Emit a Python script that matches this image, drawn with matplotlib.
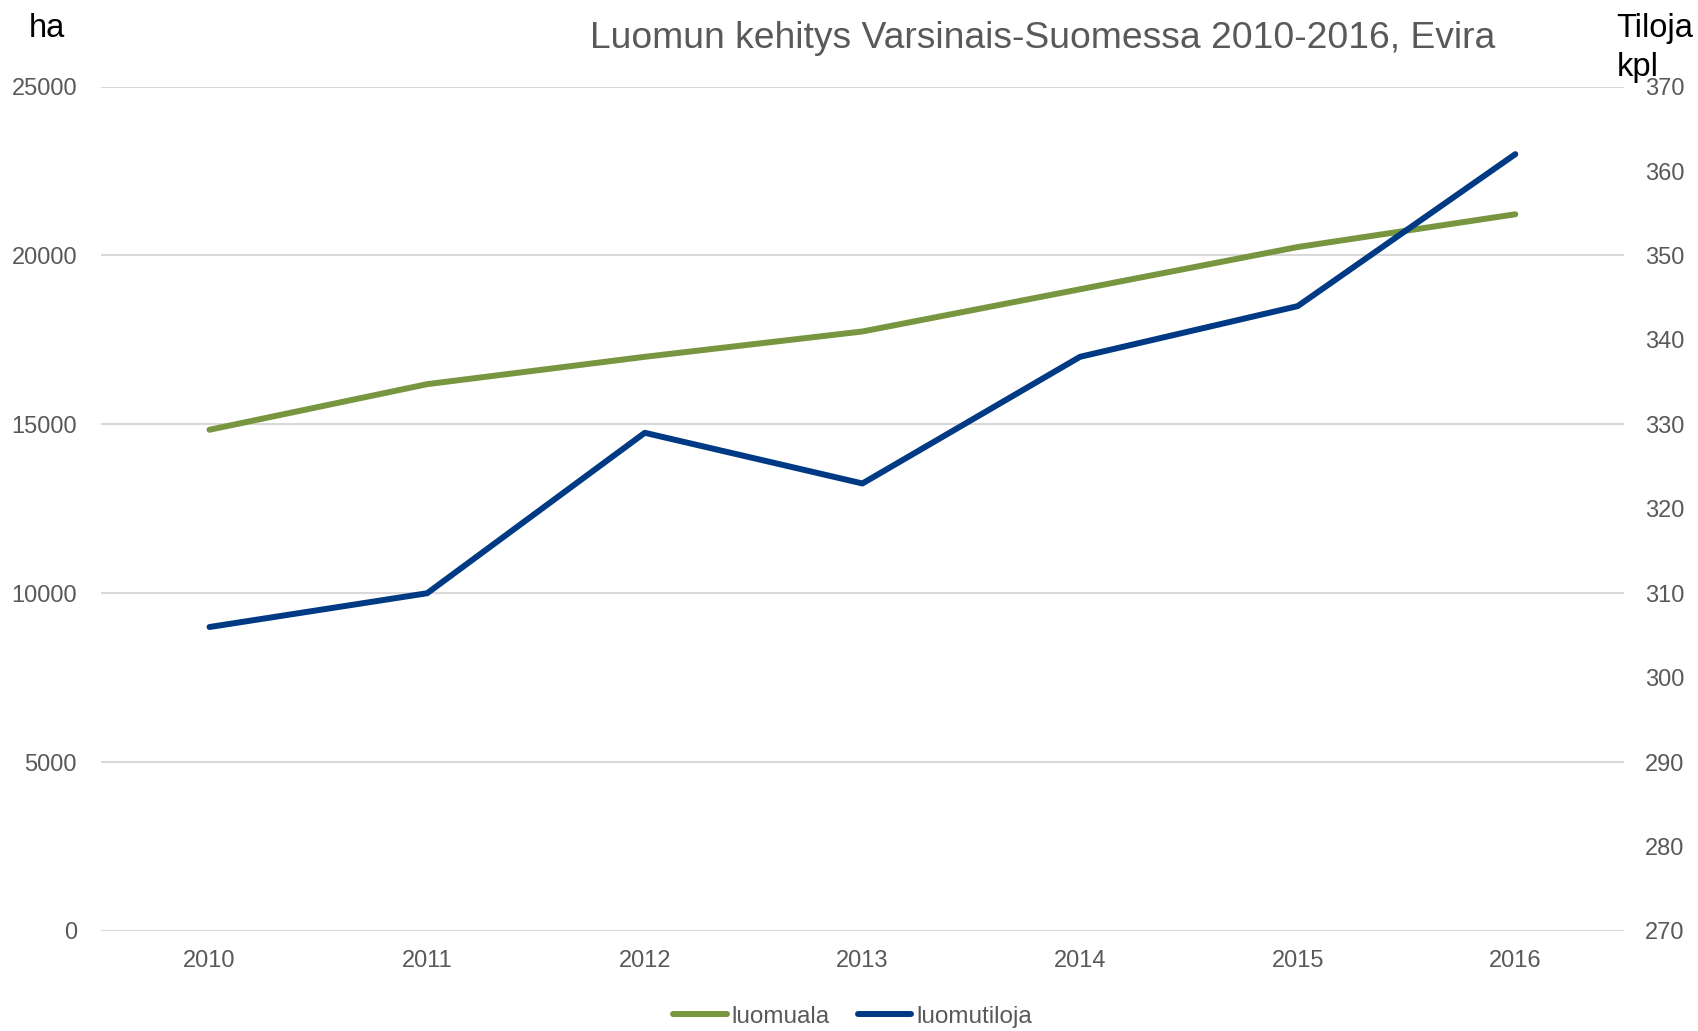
import numpy as np
import matplotlib.pyplot as plt

plt.rcParams['font.family'] = ['Liberation Sans', 'DejaVu Sans']

# data
years = ["2010", "2011", "2012", "2013", "2014", "2015", "2016"]
luomuala = [14840, 16190, 17000, 17750, 19000, 20250, 21220]   # ha
luomutiloja = [306, 310, 329, 323, 338, 344, 362]              # kpl

green = "#77963F"
blue = "#003A84"
grey_txt = "#595959"

fig = plt.figure(figsize=(16.98, 10.31), dpi=100)
ax = fig.add_axes([0.0593, 0.097, 0.8972, 0.819])
ax2 = ax.twinx()

x = np.arange(len(years))
l1, = ax.plot(x, luomuala, color=green, lw=4.3, solid_capstyle="round", label="luomuala")
l2, = ax2.plot(x, luomutiloja, color=blue, lw=4.3, solid_capstyle="round", label="luomutiloja")

ax.set_xlim(-0.5, len(years) - 0.5)
ax.set_ylim(0, 25000)
ax.set_yticks(np.arange(0, 25001, 5000))
ax2.set_ylim(270, 370)
ax2.set_yticks(np.arange(270, 371, 10))
ax.set_xticks(x)
ax.set_xticklabels(years)

ax.grid(axis="y", color="#D9D9D9", lw=1.5)
ax.set_axisbelow(True)
for a in (ax, ax2):
    for s in a.spines.values():
        s.set_visible(False)
    a.tick_params(length=0, labelsize=17, colors=grey_txt)
ax.tick_params(axis="x", pad=14)
ax.tick_params(axis="y", pad=17)
ax2.tick_params(axis="y", pad=15)

fig.text(0.614, 0.963, "Luomun kehitys Varsinais-Suomessa 2010-2016, Evira",
         ha="center", va="center", fontsize=26.8, color=grey_txt)
fig.text(0.017, 0.972, "ha", ha="left", va="center", fontsize=23.5, color="black")
fig.text(0.952, 0.972, "Tiloja", ha="left", va="center", fontsize=23.5, color="black")
fig.text(0.952, 0.935, "kpl", ha="left", va="center", fontsize=23.5, color="black")

fig.legend(handles=[l1, l2], loc="center", bbox_to_anchor=(0.502, 0.014), ncol=2,
           frameon=False, fontsize=17.5, labelcolor=grey_txt, handlelength=2.2,
           handletextpad=0.2, columnspacing=1.15)

plt.savefig("out.png", dpi=100)
